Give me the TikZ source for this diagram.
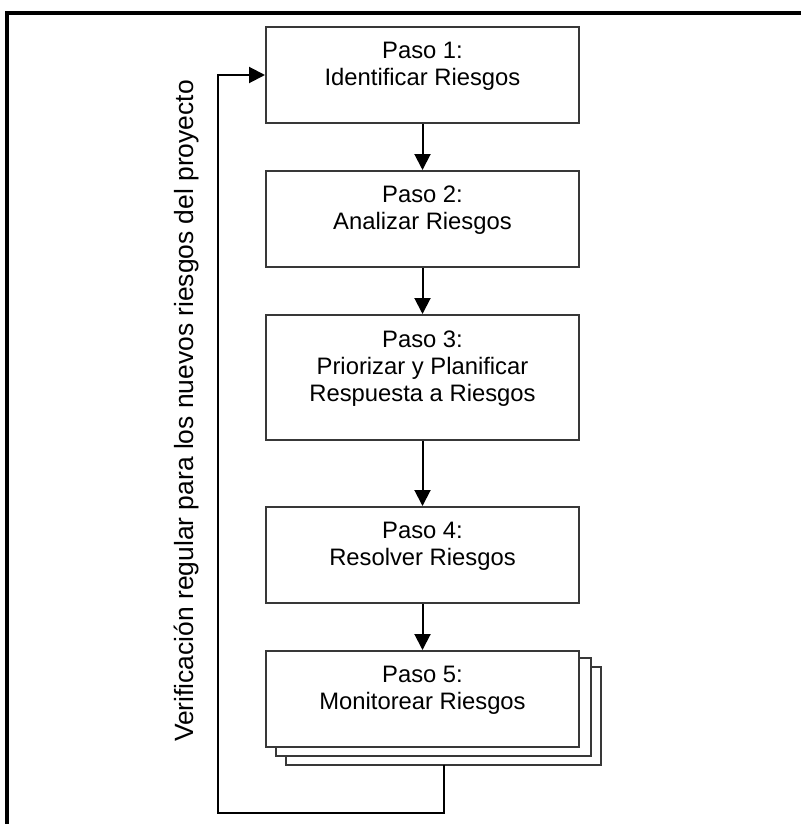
\documentclass[tikz,border=0pt]{standalone}
\usepackage{fontspec}
\setmainfont{Liberation Sans}
\usepackage{tikz}
\usetikzlibrary{arrows.meta,backgrounds}

\begin{document}
\begin{tikzpicture}[x=0.5pt, y=-0.5pt,
    stepbox/.style = {rectangle, draw = black!78, line width = 1pt, fill = white, minimum width = 156.5pt, minimum height = 48pt, inner sep = 0pt},
    steptext/.style = {align = center, font = \fontsize{11.9}{13.6}\selectfont, inner sep = 0pt},
    flow/.style = {line width = 1pt, -{Triangle[length = 8pt, width = 8pt]}},
    frame/.style = {line width = 1.6pt}]
            \useasboundingbox (0, 0) rectangle (801, 824);
            \draw [frame] (801, 13) -| (7, 824);
            \node (1) at (422.5, 75) [stepbox] {};
            \node (2) at (422.5, 219) [stepbox] {};
            \node (3) at (422.5, 377.5) [stepbox, minimum height = 62.5pt] {};
            \node (4) at (422.5, 555) [stepbox] {};
            \node (5) at (422.5, 699) [stepbox] {};
            \node (t1) at ([yshift = 4.5pt]1.center) [steptext] {Paso 1:\\Identificar Riesgos};
            \node (t2) at ([yshift = 4.5pt]2.center) [steptext] {Paso 2:\\Analizar Riesgos};
            \node (t3) at ([yshift = 4.5pt]3.center) [steptext] {Paso 3:\\Priorizar y Planificar\\Respuesta a Riesgos};
            \node (t4) at ([yshift = 4.5pt]4.center) [steptext] {Paso 4:\\Resolver Riesgos};
            \node (t5) at ([yshift = 4.5pt]5.center) [steptext] {Paso 5:\\Monitorear Riesgos};
            \begin{scope}[on background layer]
            \draw [draw = black!78, line width = 1pt, fill = white] ([shift = {(21, 16.5)}]5.south west) rectangle ([shift = {(21, 16.5)}]5.north east);
            \draw [draw = black!78, line width = 1pt, fill = white] ([shift = {(10.5, 8)}]5.south west) rectangle ([shift = {(10.5, 8)}]5.north east);
            \end{scope}
            \coordinate (back) at ([shift = {(21, 16.5)}]5.south);
            \node (loop) at (187, 411) [rotate = 90, font = \fontsize{13.2}{16}\selectfont, inner sep = 0pt] {Verificación regular para los nuevos riesgos del proyecto};
            \draw [flow] (1) -- (2);
            \draw [flow] (2) -- (3);
            \draw [flow] (3) -- (4);
            \draw [flow] (4) -- (5);
            \draw [flow] (back) -- ++(0, 48) -| (218, 75) -- (1.west);
        \end{tikzpicture}
\end{document}
